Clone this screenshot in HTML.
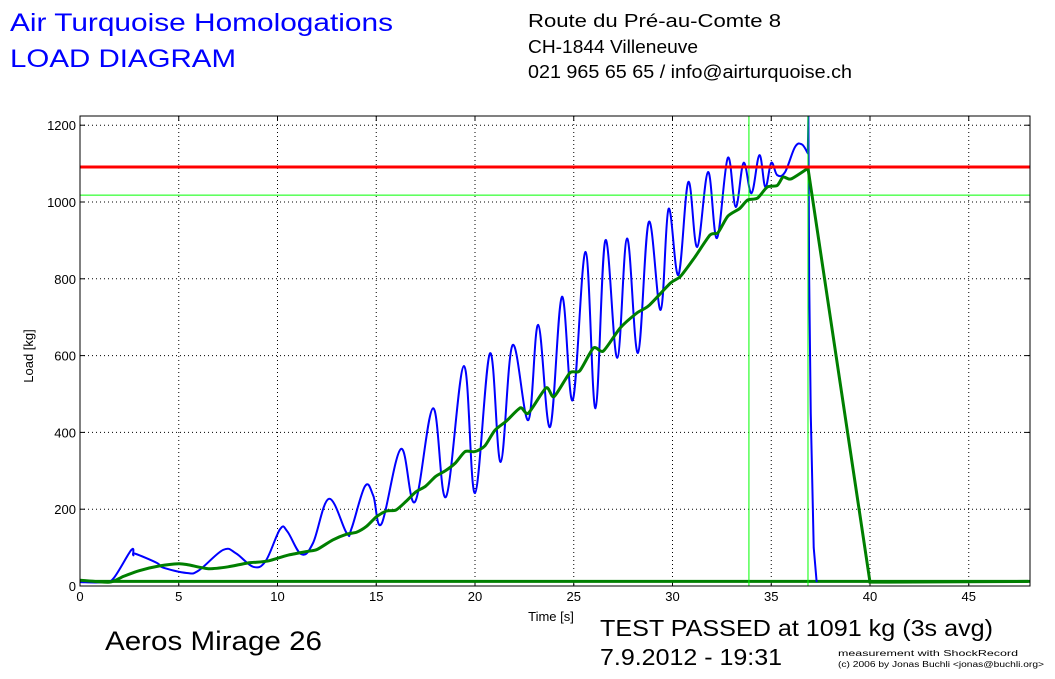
<!DOCTYPE html>
<html><head><meta charset="utf-8">
<style>
body{margin:0;background:#fff;width:1055px;height:674px;overflow:hidden;font-family:"Liberation Sans",sans-serif;}
svg text{font-family:"Liberation Sans",sans-serif;}
</style></head>
<body>
<svg id="chart" width="1055" height="674" viewBox="0 0 1055 674" xmlns="http://www.w3.org/2000/svg">
<text x="10" y="31" font-size="25" fill="#0000ff" textLength="383" lengthAdjust="spacingAndGlyphs">Air Turquoise Homologations</text>
<text x="10" y="67" font-size="25" fill="#0000ff" textLength="226" lengthAdjust="spacingAndGlyphs">LOAD DIAGRAM</text>
<text x="528" y="27" font-size="18" textLength="253" lengthAdjust="spacingAndGlyphs">Route du Pré-au-Comte 8</text>
<text x="528" y="53" font-size="18" textLength="170" lengthAdjust="spacingAndGlyphs">CH-1844 Villeneuve</text>
<text x="528" y="78" font-size="18" textLength="324" lengthAdjust="spacingAndGlyphs">021 965 65 65 / info@airturquoise.ch</text>
<text x="105" y="650" font-size="27" textLength="217" lengthAdjust="spacingAndGlyphs">Aeros Mirage 26</text>
<text x="600" y="636" font-size="23" textLength="393" lengthAdjust="spacingAndGlyphs">TEST PASSED at 1091 kg (3s avg)</text>
<text x="600" y="665" font-size="23" textLength="182" lengthAdjust="spacingAndGlyphs">7.9.2012 - 19:31</text>
<text x="838" y="656" font-size="8" textLength="180" lengthAdjust="spacingAndGlyphs">measurement with ShockRecord</text>
<text x="838" y="667" font-size="8" textLength="206" lengthAdjust="spacingAndGlyphs">(c) 2006 by Jonas Buchli &lt;jonas@buchli.org&gt;</text>
<text x="551" y="621" font-size="13" text-anchor="middle">Time [s]</text>
<text x="0" y="0" font-size="13" text-anchor="middle" transform="translate(33,356) rotate(-90)">Load [kg]</text>
<g id="plot"></g>
</svg>
<script>
const xTicks=[0,5,10,15,20,25,30,35,40,45];
const yTicks=[0,200,400,600,800,1000,1200];
const blueT=[0,1.2,1.7,2.6,2.7,2.8,3.9,4.2,5.4,6.0,7.25,7.9,8.77,9.4,10.13,10.5,11.2,11.8,12.6,13.5,13.75,14.43,14.85,15.27,16.25,16.96,17.88,18.53,19.44,20.0,20.76,21.3,21.9,22.7,23.2,23.8,24.4,24.95,25.6,26.1,26.6,27.2,27.7,28.25,28.8,29.4,29.8,30.3,30.8,31.25,31.8,32.25,32.8,33.2,33.6,34.0,34.4,34.7,35.0,35.3,35.7,36.2,36.55,36.85,36.88,36.92,37.0,37.15,37.3];
const blueV=[10,10,20,94,80,84,60,48,34,40,94,85,50,65,148,142,83,112,227,138,150,260,235,162,357,219,463,232,573,242,606,323,627,432,680,414,753,484,870,463,900,594,905,607,948,719,982,810,1052,883,1078,906,1115,987,1102,1023,1122,1039,1102,1070,1078,1143,1150,1127,1225,800,450,100,10];
const greenT=[0,1.5,2.2,3,4,5,5.5,6.5,7.5,8.5,9.5,10.5,11.5,12,12.8,13.5,14,14.5,15,15.5,16,16.5,17,17.5,18,18.5,19,19.5,20,20.5,21,21.6,22.3,22.7,23.6,24,24.8,25.3,26,26.5,27.35,28.2,28.8,29.9,30.4,31.1,31.9,32.3,32.8,33.4,33.8,34.3,34.8,35.3,35.6,36,36.86,40.0,48];
const greenV=[15,10,25,40,52,58,55,45,50,60,65,80,90,95,120,135,140,155,180,195,198,220,245,260,285,300,320,350,350,365,405,430,464,450,516,493,555,560,620,612,672,711,730,789,806,854,914,920,963,983,1005,1010,1039,1043,1065,1060,1088,10,12];
const baselineV=12, limitV=1091, avgV=1018, markT1=33.87, markT2=36.86;
const L=80,R=1030,T=116,B=586,XMAX=(R-L)/19.75,YMAX=(B-T)/0.384;
const X=t=>L+t*(R-L)/XMAX, Y=v=>B-v*(B-T)/YMAX;
const g=document.getElementById('plot');
const NS='http://www.w3.org/2000/svg';
function mk(tag,attrs){const e=document.createElementNS(NS,tag);for(const k in attrs)e.setAttribute(k,attrs[k]);g.appendChild(e);return e;}
xTicks.forEach(t=>{
 const l=mk('line',{x1:X(t),x2:X(t),y1:T,y2:B,stroke:'#000','stroke-dasharray':'1,3','stroke-width':1});
 
 
 mk('line',{x1:X(t),x2:X(t),y1:B,y2:B-5,stroke:'#000'});
 mk('line',{x1:X(t),x2:X(t),y1:T,y2:T+5,stroke:'#000'});
 const tx=mk('text',{x:X(t),y:B+15,'font-size':13,'text-anchor':'middle'});tx.textContent=t;
 
 
});
yTicks.forEach(v=>{
 const l=mk('line',{x1:L,x2:R,y1:Y(v),y2:Y(v),stroke:'#000','stroke-dasharray':'1,3','stroke-width':1});
 
 
 mk('line',{x1:L,x2:L+5,y1:Y(v),y2:Y(v),stroke:'#000'});
 mk('line',{x1:R,x2:R-5,y1:Y(v),y2:Y(v),stroke:'#000'});
 const tx=mk('text',{x:L-4,y:Y(v)+5,'font-size':13,'text-anchor':'end'});tx.textContent=v;
 
 
});
// smooth up to index `stop`, straight lines after
function smooth(ts,vs,stop,k){const n=ts.length;let d='M'+X(ts[0])+','+Y(vs[0]);
 const P=i=>[X(ts[Math.max(0,Math.min(stop,i))]),Y(vs[Math.max(0,Math.min(stop,i))])];
 for(let i=0;i<n-1;i++){
  if(i>=stop){d+=` L${X(ts[i+1])},${Y(vs[i+1])}`;continue;}
  const p0=P(i-1),p1=P(i),p2=P(i+1),p3=P(i+2);
  d+=` C${p1[0]+(p2[0]-p0[0])*k},${p1[1]+(p2[1]-p0[1])*k} ${p2[0]-(p3[0]-p1[0])*k},${p2[1]-(p3[1]-p1[1])*k} ${p2[0]},${p2[1]}`;}
 return d;}
let e;
e=mk('line',{x1:L,x2:R,y1:Y(baselineV),y2:Y(baselineV),stroke:'#007f00','stroke-width':3});


e=mk('path',{d:smooth(blueT,blueV,blueT.length-6,0.18),fill:'none',stroke:'#0000ff','stroke-width':2});


e=mk('line',{x1:X(markT1),x2:X(markT1),y1:T,y2:B,stroke:'#00ff00','stroke-width':1});


e=mk('line',{x1:X(markT2),x2:X(markT2),y1:T,y2:B,stroke:'#00ff00','stroke-width':1});


e=mk('line',{x1:L,x2:R,y1:Y(avgV),y2:Y(avgV),stroke:'#00ff00','stroke-width':1});


e=mk('path',{d:smooth(greenT,greenV,greenT.length-3,0.12),fill:'none',stroke:'#007f00','stroke-width':3});


e=mk('line',{x1:L,x2:R,y1:Y(limitV),y2:Y(limitV),stroke:'#ff0000','stroke-width':3});


e=mk('rect',{x:L,y:T,width:R-L,height:B-T,fill:'none',stroke:'#000','stroke-width':1});


</script>
</body></html>
